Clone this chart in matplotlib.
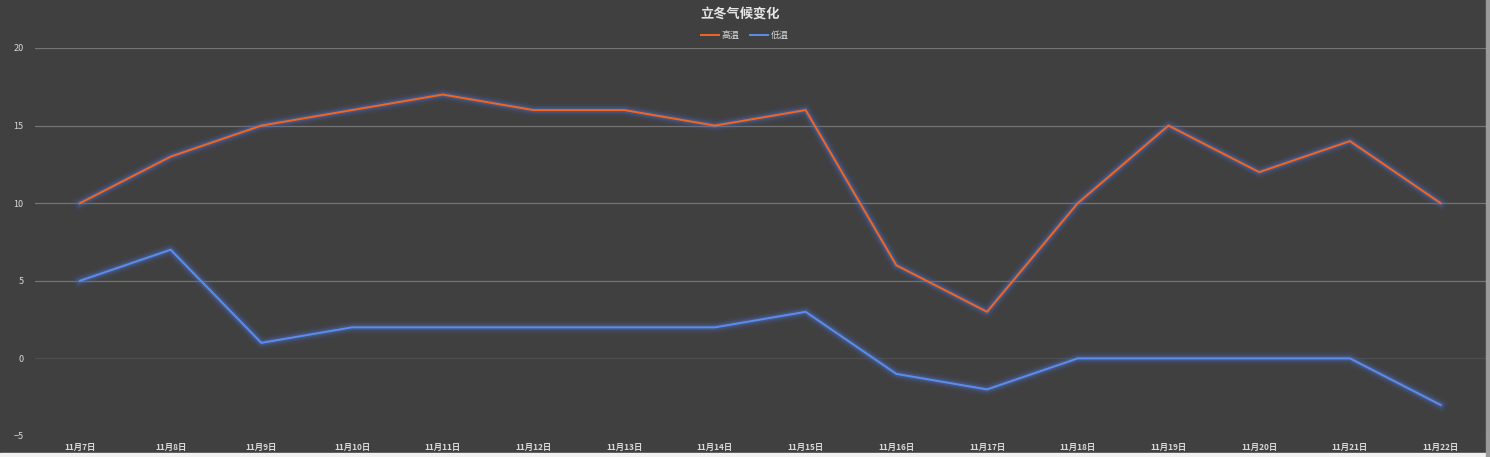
import matplotlib.pyplot as plt
import matplotlib.patheffects as pe
from matplotlib.patches import Rectangle

plt.rcParams['font.family'] = ['Noto Sans CJK SC', 'DejaVu Sans']

# data
dates = ['11月7日', '11月8日', '11月9日', '11月10日', '11月11日', '11月12日', '11月13日', '11月14日',
         '11月15日', '11月16日', '11月17日', '11月18日', '11月19日', '11月20日', '11月21日', '11月22日']
high = [10, 13, 15, 16, 17, 16, 16, 15, 16, 6, 3, 10, 15, 12, 14, 10]
low = [5, 7, 1, 2, 2, 2, 2, 2, 3, -1, -2, 0, 0, 0, 0, -3]
yticks = [-5, 0, 5, 10, 15, 20]

bg = '#404040'
txt = '#d9d9d9'

fig = plt.figure(figsize=(14.9, 4.57), dpi=100, facecolor=bg)
ax = fig.add_axes([0.0232, 0.046, 0.9741, 0.849])
ax.set_facecolor(bg)

glow = [pe.Stroke(linewidth=9, foreground='#4060a8', alpha=0.12),
        pe.Stroke(linewidth=6, foreground='#4a6cc0', alpha=0.18),
        pe.Stroke(linewidth=3.5, foreground='#5a7ad0', alpha=0.25),
        pe.Normal()]

x = range(len(dates))
ax.plot(x, high, color='#f26522', lw=1.4, label='高温', path_effects=glow, zorder=3)
ax.plot(x, low, color='#5b8def', lw=1.4, label='低温', path_effects=glow, zorder=3)

ax.set_xlim(-0.5, len(dates) - 0.5)
ax.set_ylim(-5, 20)
ax.set_yticks(yticks)
ax.set_xticks(list(x))
ax.set_xticklabels(dates, fontsize=6, color=txt, fontweight='bold')
ax.tick_params(axis='y', labelsize=6.5, labelcolor=txt, length=0, pad=8)
ax.tick_params(axis='x', length=0, pad=5)
ax.grid(axis='y', color='#747474', lw=0.9)
for v, gl in zip(yticks, ax.get_ygridlines()):
    if v <= 0:
        gl.set_color('#4e4e4e')
ax.set_axisbelow(True)
for s in ax.spines.values():
    s.set_visible(False)

fig.text(0.497, 0.97, '立冬气候变化', ha='center', va='center', fontsize=9.5,
         fontweight='bold', color='#e6e6e6')
leg = fig.legend(loc='center', bbox_to_anchor=(0.5, 0.923), ncol=2, frameon=False,
                 fontsize=6.5, handlelength=2.0, handletextpad=0.3, columnspacing=1.2)
for t in leg.get_texts():
    t.set_color(txt)
for h in leg.legend_handles:
    h.set_path_effects([])

# light window strip at the bottom and right edge
fig.patches.append(Rectangle((0, 0), 1, 4 / 457, transform=fig.transFigure, color='#f2f2f2', zorder=0))
fig.patches.append(Rectangle((1486 / 1490, 0), 4 / 1490, 1, transform=fig.transFigure, color='#9a9a9a', zorder=0))

fig.savefig('out.png', dpi=100, facecolor=bg)
